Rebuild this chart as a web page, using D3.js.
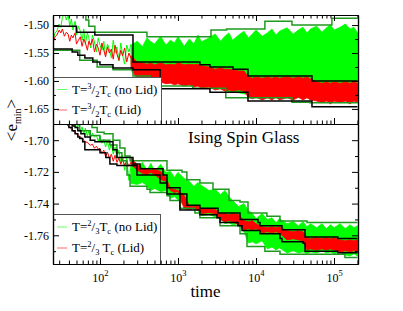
<!DOCTYPE html>
<html>
<head>
<meta charset="utf-8">
<script src="https://cdn.jsdelivr.net/npm/d3@7"></script>
<style>
  body { margin: 0; background: #fff; }
  svg { display: block; }
  text { font-family: "Liberation Serif", "DejaVu Serif", serif; fill: #000; white-space: pre; }
</style>
</head>
<body>
<svg id="chart" width="403" height="311"></svg>
<script>
// ---- data ----
// early (sparse) part of the noisy curves, time 25..250
var earlyTimes = [25, 26.5, 28, 30, 31.5, 33, 35, 37, 39, 41, 43, 45, 48, 50, 53, 56, 59, 62, 65, 69, 72, 76, 80, 85, 90, 95, 100, 106, 112, 118, 125, 132, 140, 148, 156, 165, 175, 185, 195, 207, 220, 235, 250];
var hotNoLidEarly = [-1.527, -1.514, -1.511, -1.498, -1.504, -1.486, -1.477, -1.491, -1.480, -1.502, -1.489, -1.509, -1.493, -1.518, -1.502, -1.511, -1.527, -1.507, -1.534, -1.514, -1.523, -1.541, -1.518, -1.530, -1.548, -1.523, -1.536, -1.545, -1.529, -1.555, -1.534, -1.543, -1.559, -1.527, -1.550, -1.539, -1.564, -1.532, -1.554, -1.570, -1.536, -1.548, -1.534];
var hotLidEarly = [-1.532, -1.521, -1.518, -1.509, -1.514, -1.507, -1.520, -1.513, -1.516, -1.529, -1.518, -1.523, -1.514, -1.534, -1.527, -1.521, -1.538, -1.525, -1.532, -1.545, -1.529, -1.536, -1.525, -1.548, -1.534, -1.541, -1.554, -1.532, -1.545, -1.557, -1.539, -1.550, -1.543, -1.561, -1.536, -1.552, -1.563, -1.545, -1.555, -1.541, -1.566, -1.550, -1.559];
var coldNoLidEarly = [-1.6746, -1.6771, -1.6778, -1.6803, -1.6822, -1.6822, -1.6854, -1.6860, -1.6867, -1.6892, -1.6873, -1.6911, -1.6886, -1.6924, -1.6898, -1.6943, -1.6917, -1.6962, -1.6924, -1.6975, -1.6943, -1.6987, -1.6956, -1.6981, -1.6968, -1.7006, -1.6975, -1.7019, -1.6994, -1.7044, -1.7006, -1.7063, -1.7025, -1.7089, -1.7044, -1.7114, -1.7063, -1.7146, -1.7095, -1.7190, -1.7114, -1.7254, -1.7165];
var coldLidEarly = [-1.6797, -1.6810, -1.6829, -1.6835, -1.6860, -1.6867, -1.6886, -1.6898, -1.6911, -1.6917, -1.6930, -1.6943, -1.6949, -1.6962, -1.6968, -1.6981, -1.6987, -1.7000, -1.7013, -1.7013, -1.7025, -1.7032, -1.7025, -1.7051, -1.7038, -1.7057, -1.7051, -1.7083, -1.7063, -1.7102, -1.7076, -1.7114, -1.7089, -1.7133, -1.7095, -1.7140, -1.7114, -1.7152, -1.7121, -1.7159, -1.7133, -1.7165, -1.7140];

// dense part of the noisy curves: top and bottom of the band, time 250..2e5
var bandTimes = [250, 300, 350, 400, 450, 500, 600, 700, 800, 900, 1000, 1200, 1400, 1600, 1800, 2000, 2500, 3000, 3500, 4000, 4500, 5000, 6000, 7000, 8000, 9000, 10000, 12000, 14000, 16000, 18000, 20000, 25000, 30000, 35000, 40000, 45000, 50000, 60000, 70000, 80000, 90000, 100000, 120000, 140000, 160000, 180000, 200000];
var hotNoLidHi = [-1.536, -1.529, -1.539, -1.523, -1.530, -1.534, -1.520, -1.536, -1.527, -1.532, -1.521, -1.538, -1.525, -1.534, -1.518, -1.530, -1.523, -1.516, -1.529, -1.520, -1.514, -1.527, -1.518, -1.511, -1.523, -1.516, -1.509, -1.520, -1.514, -1.507, -1.518, -1.511, -1.505, -1.516, -1.509, -1.504, -1.514, -1.507, -1.502, -1.513, -1.505, -1.500, -1.509, -1.504, -1.498, -1.507, -1.504, -1.514];
var hotNoLidLo = [-1.571, -1.577, -1.580, -1.584, -1.588, -1.589, -1.593, -1.595, -1.596, -1.598, -1.598, -1.600, -1.602, -1.602, -1.604, -1.605, -1.609, -1.613, -1.614, -1.616, -1.620, -1.620, -1.621, -1.623, -1.625, -1.625, -1.625, -1.627, -1.627, -1.627, -1.627, -1.629, -1.629, -1.629, -1.630, -1.630, -1.630, -1.632, -1.632, -1.632, -1.632, -1.634, -1.634, -1.634, -1.634, -1.634, -1.634, -1.634];
var hotLidHi = [-1.555, -1.566, -1.568, -1.570, -1.568, -1.571, -1.568, -1.571, -1.570, -1.571, -1.568, -1.571, -1.570, -1.571, -1.570, -1.573, -1.575, -1.579, -1.577, -1.579, -1.579, -1.580, -1.582, -1.582, -1.593, -1.595, -1.593, -1.595, -1.593, -1.595, -1.593, -1.595, -1.593, -1.595, -1.593, -1.595, -1.593, -1.596, -1.602, -1.604, -1.602, -1.604, -1.602, -1.604, -1.602, -1.604, -1.602, -1.604];
var hotLidLo = [-1.580, -1.595, -1.598, -1.602, -1.600, -1.604, -1.602, -1.605, -1.604, -1.607, -1.605, -1.609, -1.607, -1.611, -1.609, -1.613, -1.611, -1.616, -1.614, -1.618, -1.616, -1.618, -1.616, -1.618, -1.629, -1.632, -1.629, -1.634, -1.630, -1.634, -1.629, -1.634, -1.630, -1.634, -1.629, -1.634, -1.630, -1.634, -1.636, -1.639, -1.636, -1.641, -1.636, -1.639, -1.636, -1.641, -1.636, -1.639];
var coldNoLidHi = [-1.7140, -1.7178, -1.7140, -1.7190, -1.7146, -1.7197, -1.7152, -1.7203, -1.7197, -1.7235, -1.7203, -1.7241, -1.7260, -1.7292, -1.7267, -1.7286, -1.7317, -1.7311, -1.7343, -1.7317, -1.7356, -1.7381, -1.7419, -1.7400, -1.7444, -1.7463, -1.7495, -1.7463, -1.7502, -1.7489, -1.7521, -1.7495, -1.7527, -1.7514, -1.7540, -1.7514, -1.7546, -1.7527, -1.7552, -1.7527, -1.7559, -1.7533, -1.7552, -1.7527, -1.7559, -1.7533, -1.7552, -1.7540];
var coldNoLidLo = [-1.7273, -1.7279, -1.7267, -1.7286, -1.7317, -1.7305, -1.7324, -1.7317, -1.7368, -1.7356, -1.7375, -1.7413, -1.7406, -1.7419, -1.7444, -1.7476, -1.7470, -1.7483, -1.7489, -1.7527, -1.7521, -1.7533, -1.7527, -1.7578, -1.7648, -1.7641, -1.7654, -1.7635, -1.7686, -1.7673, -1.7692, -1.7679, -1.7711, -1.7698, -1.7711, -1.7705, -1.7717, -1.7705, -1.7711, -1.7698, -1.7711, -1.7705, -1.7717, -1.7705, -1.7724, -1.7730, -1.7717, -1.7730];
var coldLidHi = [-1.7114, -1.7152, -1.7178, -1.7184, -1.7190, -1.7184, -1.7197, -1.7235, -1.7305, -1.7311, -1.7317, -1.7349, -1.7413, -1.7419, -1.7413, -1.7432, -1.7432, -1.7438, -1.7463, -1.7463, -1.7470, -1.7463, -1.7470, -1.7508, -1.7514, -1.7508, -1.7527, -1.7546, -1.7552, -1.7546, -1.7552, -1.7546, -1.7571, -1.7578, -1.7571, -1.7578, -1.7616, -1.7622, -1.7616, -1.7622, -1.7616, -1.7622, -1.7616, -1.7629, -1.7635, -1.7629, -1.7635, -1.7629];
var coldLidLo = [-1.7152, -1.7190, -1.7209, -1.7216, -1.7203, -1.7216, -1.7248, -1.7260, -1.7318, -1.7330, -1.7324, -1.7432, -1.7438, -1.7432, -1.7438, -1.7463, -1.7457, -1.7463, -1.7502, -1.7514, -1.7508, -1.7514, -1.7533, -1.7565, -1.7559, -1.7565, -1.7559, -1.7584, -1.7578, -1.7584, -1.7578, -1.7584, -1.7629, -1.7622, -1.7629, -1.7635, -1.7692, -1.7686, -1.7692, -1.7686, -1.7692, -1.7686, -1.7692, -1.7705, -1.7698, -1.7705, -1.7698, -1.7705];

// step envelopes (value holds from each time until the next)
var hotNoLidMaxT = [25, 66, 72, 86, 400, 2650, 4200, 13000, 28900, 94000, 200000];
var hotNoLidMaxV = [-1.482, -1.491, -1.502, -1.513, -1.521, -1.509, -1.507, -1.493, -1.500, -1.488, -1.488];
var hotNoLidMinT = [25, 55, 92, 147, 265, 440, 1550, 4100, 28900, 49000, 200000];
var hotNoLidMinV = [-1.545, -1.563, -1.575, -1.580, -1.591, -1.609, -1.613, -1.630, -1.638, -1.639, -1.639];
var hotLidMaxT = [25, 50, 86, 265, 1910, 2570, 5080, 7890, 52200, 200000];
var hotLidMaxV = [-1.502, -1.513, -1.518, -1.566, -1.571, -1.575, -1.579, -1.591, -1.600, -1.600];
var hotLidMinT = [25, 44, 52, 64, 81, 100, 147, 265, 590, 2570, 7890, 52200, 200000];
var hotLidMinV = [-1.543, -1.548, -1.554, -1.559, -1.566, -1.571, -1.577, -1.580, -1.614, -1.620, -1.636, -1.646, -1.646];

var coldNoLidMaxT = [25, 64, 70, 79, 92, 113, 147, 180, 209, 243, 723, 1125, 1300, 1910, 2810, 4510, 6240, 7900, 13800, 20300, 45100, 200000];
var coldNoLidMaxV = [-1.675, -1.687, -1.690, -1.692, -1.695, -1.696, -1.700, -1.705, -1.710, -1.713, -1.719, -1.720, -1.725, -1.727, -1.731, -1.738, -1.739, -1.746, -1.748, -1.751, -1.752, -1.752];
var coldNoLidMinT = [25, 44, 48, 55, 75, 100, 134, 165, 191, 222, 243, 401, 438, 723, 790, 1060, 1650, 1910, 3460, 6240, 7670, 13000, 20300, 138000, 200000];
var coldNoLidMinV = [-1.678, -1.687, -1.690, -1.694, -1.697, -1.700, -1.703, -1.708, -1.713, -1.722, -1.729, -1.731, -1.733, -1.735, -1.738, -1.743, -1.746, -1.749, -1.754, -1.759, -1.767, -1.770, -1.772, -1.774, -1.774];
var coldLidMaxT = [25, 39, 41, 44, 48, 52, 57, 64, 75, 86, 147, 165, 265, 326, 642, 723, 1060, 1300, 1910, 3260, 6240, 10600, 11250, 21500, 42500, 112000, 200000];
var coldLidMaxV = [-1.682, -1.687, -1.690, -1.691, -1.692, -1.694, -1.696, -1.698, -1.700, -1.701, -1.706, -1.711, -1.715, -1.718, -1.722, -1.730, -1.734, -1.741, -1.743, -1.746, -1.750, -1.752, -1.754, -1.7565, -1.761, -1.762, -1.762];
var coldLidMinT = [25, 35, 37, 40, 44, 48, 52, 55, 60, 64, 100, 119, 134, 165, 298, 588, 723, 1060, 1910, 3160, 3460, 5880, 6620, 11250, 20300, 21500, 40100, 42500, 112000, 200000];
var coldLidMinV = [-1.684, -1.687, -1.690, -1.692, -1.694, -1.696, -1.698, -1.699, -1.701, -1.706, -1.708, -1.711, -1.715, -1.716, -1.722, -1.727, -1.734, -1.744, -1.747, -1.749, -1.752, -1.754, -1.757, -1.759, -1.762, -1.764, -1.765, -1.770, -1.771, -1.771];

// ticks and labels
var topMajor = [-1.50, -1.55, -1.60, -1.65];
var topMinor = [-1.525, -1.575, -1.625];
var botMajor = [-1.70, -1.72, -1.74, -1.76];
var botMinor = [-1.71, -1.73, -1.75, -1.77];
var timeMajor = [100, 1000, 10000, 100000];
var hotLegend = [
  [["T=", ""], ["3", "sup"], ["/", ""], ["2", "sub"], ["T", ""], ["c", "sub"], [" (no Lid)", ""]],
  [["T=", ""], ["3", "sup"], ["/", ""], ["2", "sub"], ["T", ""], ["c", "sub"], [" (Lid)", ""]]
];
var coldLegend = [
  [["T=", ""], ["2", "sup"], ["/", ""], ["3", "sub"], ["T", ""], ["c", "sub"], [" (no Lid)", ""]],
  [["T=", ""], ["2", "sup"], ["/", ""], ["3", "sub"], [" T", ""], ["c", "sub"], [" (Lid)", ""]]
];

// ---- layout ----
var L = 53, R = 358, T = 15, M = 124, B = 264;
var green = "#00ff00", red = "#ff0000", darkGreen = "#1e9a1e";

var svg = d3.select("#chart");
var x = d3.scaleLog().domain([25, 203000]).range([L, R]);
var yTop = d3.scaleLinear().domain([-1.677, -1.482]).range([M, T]);
var yBot = d3.scaleLinear().domain([-1.7781, -1.6898]).range([B, M]);

var defs = svg.append("defs");
defs.append("clipPath").attr("id", "clipTop").append("rect")
  .attr("x", L).attr("y", T).attr("width", R - L).attr("height", M - T);
defs.append("clipPath").attr("id", "clipBot").append("rect")
  .attr("x", L).attr("y", M).attr("width", R - L).attr("height", B - M);

function drawPanel(clip, y, noLidEarly, lidEarly, noLidHi, noLidLo, lidHi, lidLo, envs) {
  var g = svg.append("g").attr("clip-path", "url(#" + clip + ")");
  var area = function (hi, lo) {
    return d3.area()
      .x(function (d, i) { return x(bandTimes[i]); })
      .y0(function (d, i) { return y(lo[i]); })
      .y1(function (d, i) { return y(hi[i]); })(hi);
  };
  var zig = d3.line()
    .x(function (d, i) { return x(earlyTimes[i]); })
    .y(function (d) { return y(d); });

  g.append("path").attr("d", area(noLidHi, noLidLo))
    .attr("fill", green).attr("stroke", green).attr("stroke-width", 0.8);
  g.append("path").attr("d", zig(noLidEarly))
    .attr("fill", "none").attr("stroke", green).attr("stroke-width", 1);
  g.append("path").attr("d", area(lidHi, lidLo))
    .attr("fill", red).attr("stroke", red).attr("stroke-width", 0.8);
  g.append("path").attr("d", zig(lidEarly))
    .attr("fill", "none").attr("stroke", red).attr("stroke-width", 1);

  envs.forEach(function (e) {
    var step = d3.line().curve(d3.curveStepAfter)
      .x(function (d, i) { return x(e.t[i]); })
      .y(function (d) { return y(d); });
    g.append("path").attr("d", step(e.v))
      .attr("fill", "none").attr("stroke", e.color).attr("stroke-width", 1.5);
  });
}

drawPanel("clipTop", yTop, hotNoLidEarly, hotLidEarly, hotNoLidHi, hotNoLidLo, hotLidHi, hotLidLo, [
  { t: hotNoLidMaxT, v: hotNoLidMaxV, color: darkGreen },
  { t: hotNoLidMinT, v: hotNoLidMinV, color: darkGreen },
  { t: hotLidMaxT, v: hotLidMaxV, color: "#000" },
  { t: hotLidMinT, v: hotLidMinV, color: "#000" }
]);
drawPanel("clipBot", yBot, coldNoLidEarly, coldLidEarly, coldNoLidHi, coldNoLidLo, coldLidHi, coldLidLo, [
  { t: coldNoLidMaxT, v: coldNoLidMaxV, color: darkGreen },
  { t: coldNoLidMinT, v: coldNoLidMinV, color: darkGreen },
  { t: coldLidMaxT, v: coldLidMaxV, color: "#000" },
  { t: coldLidMinT, v: coldLidMinV, color: "#000" }
]);

// legends
function legend(top, bottom, right, rows, rowY) {
  var g = svg.append("g");
  g.append("rect").attr("x", L + 0.5).attr("y", top + 0.5)
    .attr("width", right - L).attr("height", bottom - top)
    .attr("fill", "#fff").attr("stroke", "#555").attr("stroke-width", 1);
  var colors = [green, red];
  rows.forEach(function (parts, k) {
    var yy = rowY[k];
    g.append("line").attr("x1", 57).attr("x2", 67).attr("y1", yy).attr("y2", yy)
      .attr("stroke", colors[k]).attr("stroke-width", 1).attr("opacity", 0.6);
    var t = g.append("text").attr("x", 72).attr("y", yy + 4).attr("font-size", 13);
    var shift = 0;
    parts.forEach(function (p) {
      var target = p[1] === "sup" ? -5 : p[1] === "sub" ? 3 : 0;
      t.append("tspan").attr("dy", target - shift)
        .attr("font-size", p[1] ? 8.5 : 13).text(p[0]);
      shift = target;
    });
  });
}
legend(77, 124, 161, hotLegend, [89.5, 110]);
legend(214, 264, 160, coldLegend, [227, 248]);

// axes
function styleAxis(g) {
  g.attr("font-family", null).attr("font-size", 12);
  g.selectAll("path.domain").attr("stroke", "#000").attr("stroke-width", 1.2);
  g.selectAll(".tick line").attr("stroke", "#000");
}
var fmt = function (d) { return d.toFixed(2); };
var xMinor = x.ticks().filter(function (d) { return timeMajor.indexOf(d) < 0; });

[[yTop, topMajor, topMinor], [yBot, botMajor, botMinor]].forEach(function (a) {
  svg.append("g").attr("transform", "translate(" + L + ",0)")
    .call(d3.axisLeft(a[0]).tickValues(a[1]).tickSizeInner(-6).tickSizeOuter(0).tickPadding(4).tickFormat(fmt))
    .call(styleAxis);
  svg.append("g").attr("transform", "translate(" + L + ",0)")
    .call(d3.axisLeft(a[0]).tickValues(a[2]).tickSizeInner(-3).tickSizeOuter(0).tickFormat(""))
    .call(styleAxis);
  svg.append("g").attr("transform", "translate(" + R + ",0)")
    .call(d3.axisRight(a[0]).tickValues(a[1]).tickSizeInner(-6).tickSizeOuter(0).tickFormat(""))
    .call(styleAxis);
  svg.append("g").attr("transform", "translate(" + R + ",0)")
    .call(d3.axisRight(a[0]).tickValues(a[2]).tickSizeInner(-3).tickSizeOuter(0).tickFormat(""))
    .call(styleAxis);
});

var bottomAxis;
[[T, d3.axisTop], [M, d3.axisBottom], [B, d3.axisBottom]].forEach(function (a) {
  svg.append("g").attr("transform", "translate(0," + a[0] + ")")
    .call(a[1](x).tickValues(xMinor).tickSizeInner(-3.5).tickSizeOuter(0).tickFormat(""))
    .call(styleAxis);
  var g = svg.append("g").attr("transform", "translate(0," + a[0] + ")")
    .call(a[1](x).tickValues(timeMajor).tickSizeInner(-6).tickSizeOuter(0).tickFormat(a[0] === B ? String : ""))
    .call(styleAxis);
  if (a[0] === B) bottomAxis = g;
});

// powers of ten under the bottom axis
bottomAxis.selectAll(".tick text").each(function (d) {
  var t = d3.select(this).text(null).attr("y", 18).attr("dy", null).attr("font-size", 12);
  t.append("tspan").text("10");
  t.append("tspan").attr("font-size", 8.5).attr("dy", -6).text(Math.round(Math.log10(d)));
});

// titles
svg.append("text").attr("x", 205.5).attr("y", 296.5).attr("text-anchor", "middle")
  .attr("font-size", 17).text("time");
svg.append("text").attr("x", 188).attr("y", 143).attr("font-size", 17).text("Ising Spin Glass");
var yl = svg.append("text").attr("transform", "translate(17,120) rotate(-90)")
  .attr("text-anchor", "middle").attr("font-size", 17);
yl.append("tspan").text("<e");
yl.append("tspan").attr("font-size", 10).attr("dy", 4).text("min");
yl.append("tspan").attr("dy", -4).text(">");
</script>
</body>
</html>
